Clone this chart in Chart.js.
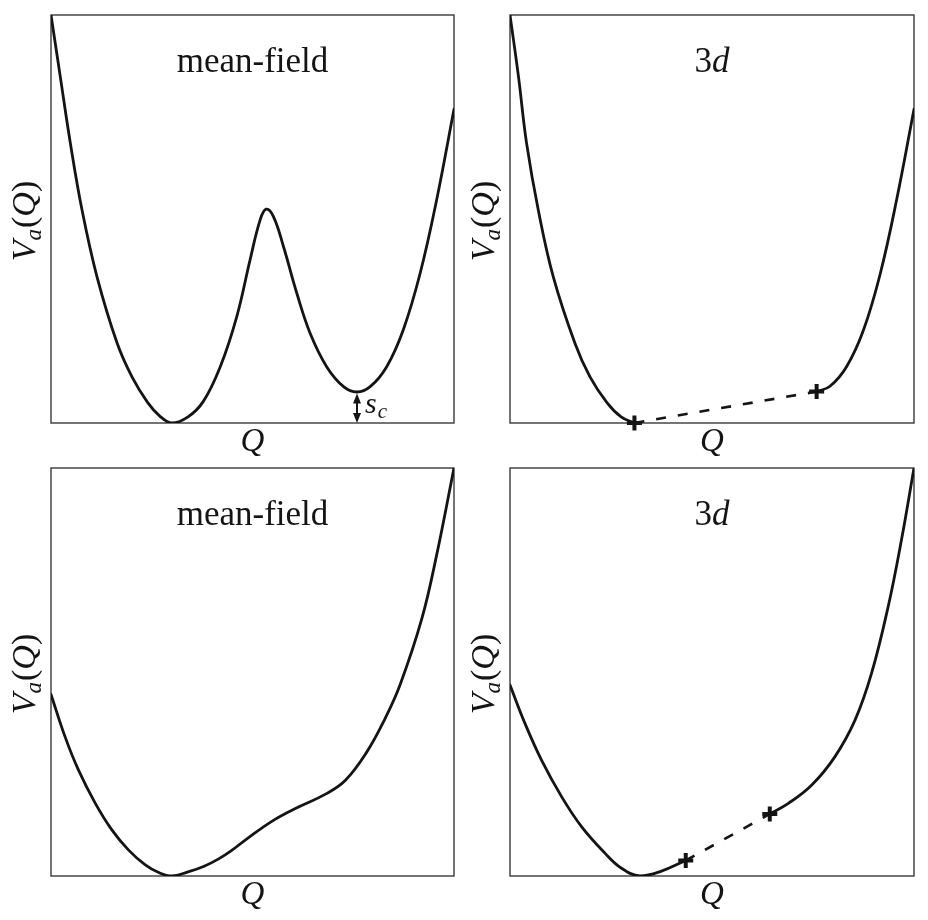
<!DOCTYPE html>
<html>
<head>
<meta charset="utf-8">
<script src="https://cdn.jsdelivr.net/npm/chart.js@4/dist/chart.umd.min.js"></script>
<style>
  body { margin:0; background:#fff; width:928px; height:920px; position:relative; overflow:hidden; }
  canvas { position:absolute; }
</style>
</head>
<body>
<canvas id="c0" width="464" height="460" style="left:0px;top:0px"></canvas>
<canvas id="c1" width="464" height="460" style="left:464px;top:0px"></canvas>
<canvas id="c2" width="464" height="460" style="left:0px;top:460px"></canvas>
<canvas id="c3" width="464" height="460" style="left:464px;top:460px"></canvas>
<script>
// ---------- data (Q and V_a(Q) in normalised plot units) ----------
// top-left: mean-field, two minima
const tlQ = [0.000, 0.023, 0.048, 0.077, 0.114, 0.164, 0.201, 0.240, 0.270, 0.300, 0.340, 0.378, 0.420, 0.461, 0.494, 0.519, 0.534, 0.552, 0.577, 0.610, 0.643, 0.684, 0.726, 0.759, 0.792, 0.833, 0.874, 0.916, 0.957, 1.000];
const tlV = [1.000, 0.849, 0.686, 0.522, 0.359, 0.196, 0.113, 0.050, 0.017, 0.000, 0.015, 0.053, 0.138, 0.261, 0.400, 0.498, 0.524, 0.506, 0.432, 0.318, 0.220, 0.138, 0.089, 0.076, 0.089, 0.138, 0.228, 0.367, 0.547, 0.769];
const scQ = 0.759;      // position of the s_c gap
const scV = 0.076;      // height of the metastable minimum

// top-right: 3d, convex curve with tangent construction
const trLeftQ  = [0.000, 0.021, 0.041, 0.070, 0.107, 0.161, 0.198, 0.240, 0.275, 0.308];
const trLeftV  = [1.000, 0.849, 0.686, 0.522, 0.359, 0.195, 0.113, 0.050, 0.015, 0.000];
const trRightQ = [0.759, 0.792, 0.833, 0.875, 0.916, 0.957, 1.000];
const trRightV = [0.077, 0.090, 0.138, 0.228, 0.364, 0.547, 0.769];
const trTangentQ = [0.308, 0.759];
const trTangentV = [0.000, 0.077];

// bottom-left: mean-field, shoulder
const blQ = [0.000, 0.035, 0.068, 0.110, 0.151, 0.192, 0.234, 0.266, 0.300, 0.340, 0.380, 0.416, 0.450, 0.482, 0.548, 0.614, 0.680, 0.730, 0.783, 0.829, 0.866, 0.920, 0.957, 1.000];
const blV = [0.445, 0.341, 0.260, 0.178, 0.113, 0.064, 0.027, 0.009, 0.000, 0.010, 0.024, 0.042, 0.064, 0.088, 0.134, 0.169, 0.200, 0.234, 0.303, 0.386, 0.468, 0.630, 0.787, 1.000];

// bottom-right: 3d, with tangent construction
const brLeftQ  = [0.000, 0.037, 0.078, 0.128, 0.177, 0.235, 0.276, 0.322, 0.375, 0.435];
const brLeftV  = [0.468, 0.374, 0.284, 0.194, 0.121, 0.056, 0.019, 0.000, 0.012, 0.038];
const brRightQ = [0.643, 0.689, 0.747, 0.804, 0.854, 0.895, 0.936, 0.969, 1.000];
const brRightV = [0.152, 0.178, 0.223, 0.292, 0.382, 0.497, 0.660, 0.824, 1.000];
const brTangentQ = [0.435, 0.643];
const brTangentV = [0.038, 0.152];

const panelTitles = ['mean-field', '3d', 'mean-field', '3d'];
const xAxisLabel = 'Q';

// ---------- helpers ----------
const INK = '#141414';
const pts = (qs, vs) => qs.map((q, i) => ({ x: q, y: vs[i] }));
const SERIF = '"Liberation Serif", "DejaVu Serif", serif';

function curve(qs, vs) {
  return { data: pts(qs, vs), showLine: true, borderColor: INK, borderWidth: 2.8,
           pointRadius: 0, tension: 0.4, fill: false, borderCapStyle: 'round' };
}
function dashed(qs, vs) {
  return { data: pts(qs, vs), showLine: true, borderColor: INK, borderWidth: 2.6,
           borderDash: [10, 12], pointRadius: 0, tension: 0, fill: false };
}
function markers(qs, vs) {
  return { data: pts(qs, vs), showLine: false, pointStyle: 'cross', pointRadius: 7.5,
           pointBorderWidth: 4, pointBorderColor: INK, borderColor: INK, clip: false };
}

function drawParts(ctx, parts, x, y) {
  let total = 0;
  parts.forEach(p => { ctx.font = p.font; p.w = ctx.measureText(p.t).width; total += p.w + (p.gap || 0); });
  let cx = x - total / 2;
  parts.forEach(p => {
    ctx.font = p.font;
    ctx.fillText(p.t, cx, y + (p.dy || 0));
    cx += p.w + (p.gap || 0);
  });
}

function titleParts(t) {
  if (t === '3d') return [
    { t: '3', font: '35px ' + SERIF },
    { t: 'd', font: 'italic 35px ' + SERIF }
  ];
  return [{ t: t, font: '35px ' + SERIF }];
}

const decor = {
  id: 'decor',
  beforeDatasetsDraw(chart) {
    const { ctx, chartArea: a } = chart;
    ctx.save();
    ctx.strokeStyle = '#3a3a3a';
    ctx.lineWidth = 1.4;
    ctx.strokeRect(a.left, a.top, a.right - a.left, a.bottom - a.top);
    ctx.restore();
  },
  afterDraw(chart, args, opts) {
    const { ctx, chartArea: a } = chart;
    const cx = (a.left + a.right) / 2;
    ctx.save();
    ctx.fillStyle = INK;
    ctx.textBaseline = 'alphabetic';
    ctx.textAlign = 'left';
    // panel title
    drawParts(ctx, titleParts(opts.title), cx, a.top + 57);
    // x label
    drawParts(ctx, [{ t: xAxisLabel, font: 'italic 33px ' + SERIF }], cx, a.bottom + 28);
    // y label V_a(Q), rotated
    ctx.save();
    ctx.translate(a.left - 16, (a.top + a.bottom) / 2 + 2);
    ctx.rotate(-Math.PI / 2);
    drawParts(ctx, [
      { t: 'V', font: 'italic 34px ' + SERIF },
      { t: 'a', font: 'italic 23px ' + SERIF, dy: 6, gap: 1 },
      { t: '(', font: '34px ' + SERIF },
      { t: 'Q', font: 'italic 34px ' + SERIF },
      { t: ')', font: '34px ' + SERIF }
    ], 0, 0);
    ctx.restore();
    // s_c gap arrow
    if (opts.sc) {
      const xs = chart.scales.x, ys = chart.scales.y;
      const x = Math.round(xs.getPixelForValue(scQ));
      const yTop = ys.getPixelForValue(scV) + 1.5;
      const yBot = ys.getPixelForValue(0);
      ctx.strokeStyle = INK; ctx.lineWidth = 2;
      ctx.beginPath(); ctx.moveTo(x, yTop + 6); ctx.lineTo(x, yBot - 6); ctx.stroke();
      ctx.beginPath(); ctx.moveTo(x, yTop); ctx.lineTo(x - 4, yTop + 10); ctx.lineTo(x + 4, yTop + 10); ctx.closePath(); ctx.fill();
      ctx.beginPath(); ctx.moveTo(x, yBot); ctx.lineTo(x - 4, yBot - 10); ctx.lineTo(x + 4, yBot - 10); ctx.closePath(); ctx.fill();
      ctx.font = 'italic 30px ' + SERIF;
      ctx.fillText('s', x + 8, yBot - 10);
      const ws = ctx.measureText('s').width;
      ctx.font = 'italic 21px ' + SERIF;
      ctx.fillText('c', x + 9 + ws, yBot - 5);
    }
    ctx.restore();
  }
};

function makeChart(id, datasets, pad, title, sc) {
  return new Chart(document.getElementById(id), {
    type: 'scatter',
    data: { datasets: datasets },
    options: {
      responsive: false, animation: false, devicePixelRatio: 1,
      layout: { padding: pad, autoPadding: false },
      scales: {
        x: { type: 'linear', min: 0, max: 1, display: false },
        y: { type: 'linear', min: 0, max: 1, display: false }
      },
      plugins: { legend: { display: false }, tooltip: { enabled: false }, decor: { title: title, sc: sc } }
    },
    plugins: [decor]
  });
}

makeChart('c0', [curve(tlQ, tlV)], { left: 51, top: 15, right: 10, bottom: 37 }, panelTitles[0], true);
makeChart('c1', [curve(trLeftQ, trLeftV), curve(trRightQ, trRightV), dashed(trTangentQ, trTangentV), markers(trTangentQ, trTangentV)],
          { left: 46, top: 15, right: 14, bottom: 37 }, panelTitles[1], false);
makeChart('c2', [curve(blQ, blV)], { left: 51, top: 8, right: 10, bottom: 44 }, panelTitles[2], false);
makeChart('c3', [curve(brLeftQ, brLeftV), curve(brRightQ, brRightV), dashed(brTangentQ, brTangentV), markers(brTangentQ, brTangentV)],
          { left: 46, top: 8, right: 14, bottom: 44 }, panelTitles[3], false);
</script>
</body>
</html>
